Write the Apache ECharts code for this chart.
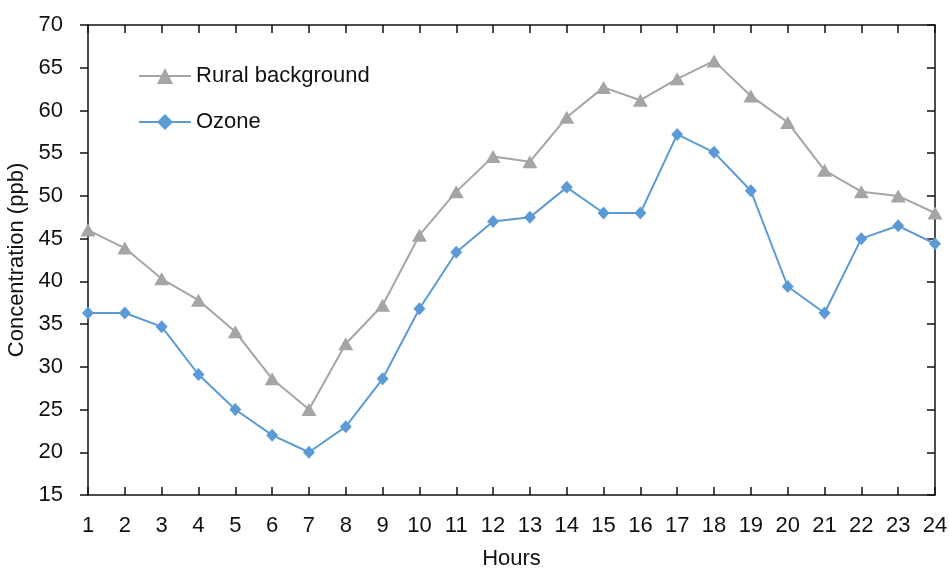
<!DOCTYPE html>
<html>
<head>
<meta charset="utf-8">
<script src="https://cdn.jsdelivr.net/npm/echarts@6/dist/echarts.min.js"></script>
<style>
  html, body { margin: 0; padding: 0; background: #fff; }
  #main { width: 950px; height: 571px; }
</style>
</head>
<body>
<div id="main"></div>
<script>
// 数据
var hours = ['1','2','3','4','5','6','7','8','9','10','11','12','13','14','15','16','17','18','19','20','21','22','23','24'];
var rural = [46.0, 43.9, 40.3, 37.8, 34.1, 28.6, 25.0, 32.7, 37.2, 45.4, 50.5, 54.6, 54.0, 59.2, 62.7, 61.2, 63.7, 65.8, 61.7, 58.6, 53.0, 50.5, 50.0, 48.0];
var ozone = [36.3, 36.3, 34.7, 29.1, 25.0, 22.0, 20.0, 23.0, 28.6, 36.8, 43.4, 47.0, 47.5, 51.0, 48.0, 48.0, 57.2, 55.1, 50.6, 39.4, 36.3, 45.0, 46.5, 44.4];

var FONT = '"Liberation Sans Narrow", "Liberation Sans", Arial, sans-serif';
var chart = echarts.init(document.getElementById('main'));

chart.setOption({
  animation: false,
  textStyle: { fontFamily: FONT },
  grid: { left: 88, right: 15, top: 25, bottom: 76, containLabel: false, outerBoundsMode: 'none' },
  legend: {
    orient: 'vertical',
    left: 138,
    top: 65,
    padding: 0,
    itemWidth: 52,
    itemHeight: 20,
    itemGap: 24,
    textStyle: { fontSize: 22, color: '#111', fontFamily: FONT }
  },
  xAxis: [
    {
      type: 'category',
      data: hours,
      boundaryGap: false,
      name: 'Hours',
      nameLocation: 'middle',
      nameGap: 53,
      nameTextStyle: { fontSize: 22, color: '#111' },
      axisLine: { lineStyle: { color: '#111', width: 1.5 } },
      axisTick: { inside: true, length: 8, lineStyle: { color: '#111', width: 1.5 } },
      axisLabel: { fontSize: 22, color: '#111', margin: 20, interval: 0 },
      splitLine: { show: false }
    },
    {
      type: 'category',
      data: hours,
      boundaryGap: false,
      position: 'top',
      axisLine: { lineStyle: { color: '#111', width: 1.5 } },
      axisTick: { inside: true, length: 8, lineStyle: { color: '#111', width: 1.5 } },
      axisLabel: { show: false },
      splitLine: { show: false }
    }
  ],
  yAxis: [
    {
      type: 'value',
      min: 15,
      max: 70,
      interval: 5,
      name: 'Concentration (ppb)',
      nameLocation: 'middle',
      nameGap: 55,
      nameTextStyle: { fontSize: 22, color: '#111' },
      axisLine: { show: true, lineStyle: { color: '#111', width: 1.5 } },
      axisTick: { show: true, length: 8, lineStyle: { color: '#111', width: 1.5 } },
      axisLabel: { fontSize: 22, color: '#111', margin: 25 },
      splitLine: { show: false }
    },
    {
      type: 'value',
      min: 15,
      max: 70,
      interval: 5,
      position: 'right',
      axisLine: { show: true, lineStyle: { color: '#111', width: 1.5 } },
      axisTick: { show: true, inside: true, length: 8, lineStyle: { color: '#111', width: 1.5 } },
      axisLabel: { show: false },
      splitLine: { show: false }
    }
  ],
  series: [
    {
      name: 'Rural background',
      type: 'line',
      data: rural,
      symbol: 'triangle',
      symbolSize: [15, 13],
      lineStyle: { color: '#A5A5A5', width: 2 },
      itemStyle: { color: '#A5A5A5' }
    },
    {
      name: 'Ozone',
      type: 'line',
      data: ozone,
      symbol: 'diamond',
      symbolSize: [12, 13],
      lineStyle: { color: '#5B9BD5', width: 2 },
      itemStyle: { color: '#5B9BD5' }
    }
  ]
});
</script>
</body>
</html>
